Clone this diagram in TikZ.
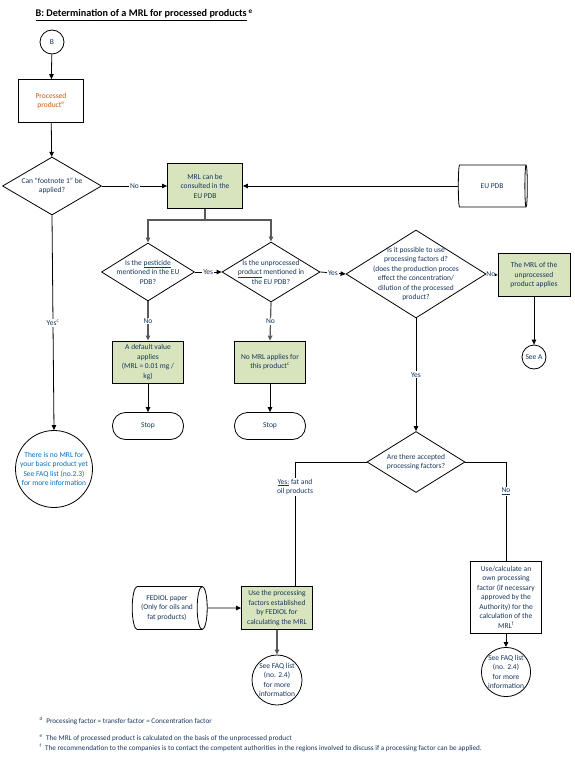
\documentclass[tikz,border=0pt]{standalone}
\usepackage{fontspec}
\setmainfont{Carlito}
\usepackage{tikz}
\usetikzlibrary{arrows.meta, shapes.geometric, positioning, calc}
\definecolor{BoxGreen}{RGB}{215,228,189}
\definecolor{TextNavy}{RGB}{23,54,93}
\definecolor{TextBlue}{RGB}{0,112,192}
\definecolor{TextOrange}{RGB}{197,90,17}
\definecolor{LineGrey}{RGB}{89,89,89}

\begin{document}
\begin{tikzpicture}[x=1pt,y=-1pt,
    every node/.style={font=\fontsize{7.5}{9.5}\selectfont, text=TextNavy, align=center},
    procbox/.style={draw, line width=0.8pt, fill=white, inner sep=1pt},
    greenbox/.style={procbox, fill=BoxGreen},
    ask/.style={diamond, draw, line width=0.8pt, fill=white, inner sep=0pt},
    endcircle/.style={circle, draw, line width=0.8pt, fill=white, inner sep=0pt},
    stopbox/.style={draw, line width=0.8pt, rounded corners=13pt, minimum width=71, minimum height=27},
    store/.style={cylinder, draw, line width=0.8pt, fill=white, inner sep=0pt},
    link/.style={draw, line width=0.8pt, -{Triangle[length=5pt,width=4.5pt]}},
    greylink/.style={link, LineGrey, line width=1.2pt},
    plainlink/.style={draw, line width=0.8pt},
    tag/.style={fill=white, inner sep=1pt},
    footnote/.style={font=\fontsize{7.2}{8}\selectfont, anchor=west, align=left}]
        \useasboundingbox (0,0) rectangle (574,760);
        % Title
        \node[font=\bfseries\fontsize{10.2}{12}\selectfont, text=black, anchor=west] (title) at (32,15)
          {\underline{B: Determination of a MRL for processed products}\,\textsuperscript{e}};
        % Start and first question
        \node[endcircle, minimum size=24] (b) at (52,42) {B};
        \node[procbox, minimum width=65, minimum height=43, text=TextOrange] (pp) at (51,101) {Processed\\product\textsuperscript{e}};
        \node[ask, minimum width=99, minimum height=58,
          label={center:{Can “footnote 1” be\\applied?}}] (q1) at (52,186) {};
        \node[greenbox, minimum width=75, minimum height=45] (mrl) at (205,186) {MRL can be\\consulted in the\\EU PDB};
        \node[store, minimum width=42, minimum height=69, aspect=0.5] (eupdb) at (492,186) {EU PDB};
        % Questions on the EU PDB
        \node[ask, minimum width=93, minimum height=58,
          label={center:{Is the \underline{pesticide}\\mentioned in the EU\\PDB?}}] (q2) at (148,272) {};
        \node[ask, minimum width=98, minimum height=60,
          label={center:{Is the unprocessed\\\underline{product} mentioned in\\the EU PDB?}}] (q3) at (271,272) {};
        \node[ask, minimum width=140, minimum height=88,
          label={center:{Is it possible to use\\processing factors d?\\(does the production proces\\effect the concentration/\\dilution of the processed\\product?}}] (q4) at (416,274) {};
        \node[greenbox, minimum width=72, minimum height=43] (mrlup) at (534,275) {The MRL of the\\unprocessed\\product applies};
        \node[endcircle, minimum size=24] (seea) at (534,357) {See A};
        % Outcomes
        \node[endcircle, minimum size=77, text=TextBlue] (nomrl) at (54,469) {There is no MRL for\\your basic product yet\\See FAQ list (no.2.3)\\for more information};
        \node[greenbox, minimum width=71, minimum height=42] (defval) at (148,362) {A default value\\applies\\(MRL = 0.01 mg /\\kg)};
        \node[stopbox] (stop1) at (148,426) {Stop};
        \node[greenbox, minimum width=71, minimum height=42] (nomrlp) at (270,362) {No MRL applies for\\this product\textsuperscript{c}};
        \node[stopbox] (stop2) at (270,426) {Stop};
        % Processing factors
        \node[ask, minimum width=98, minimum height=61,
          label={center:{Are there accepted\\processing factors?}}] (q5) at (416,462) {};
        \node[store, minimum width=43, minimum height=75, aspect=0.4] (paper) at (167,608) {FEDIOL paper\\(Only for oils and\\fat products)};
        \node[greenbox, minimum width=71, minimum height=43] (fediol) at (277,608) {Use the processing\\factors established\\by FEDIOL for\\calculating the MRL};
        \node[endcircle, minimum size=50] (faqa) at (277,680) {See FAQ list\\(no. 2.4)\\for more\\information};
        \node[procbox, minimum width=71, minimum height=72] (ownpf) at (506,597) {Use/calculate an\\own processing\\factor (if necessary\\approved by the\\Authority) for the\\calculation of the\\MRL\textsuperscript{f}};
        \node[endcircle, minimum size=48] (faqb) at (506,672) {See FAQ list\\(no. 2.4)\\for more\\information};
        % Connectors
        \draw[link] (b) -- (pp);
        \draw[link] (pp) -- (q1);
        \draw[link] (q1.east) -- node[tag] {No} (mrl.west);
        \draw[link] (eupdb.west) -- (mrl.east);
        \coordinate (split) at ($(mrl.south)+(0,11)$);
        \draw[greylink] (mrl.south) -- (split) -| (q2.north);
        \draw[greylink] (split) -| (q3.north);
        \draw[link] (q2.east) -- node[tag] {Yes} (q3.west);
        \draw[link] (q3.east) -- node[tag] {Yes} (q4.west);
        \draw[link] (q4.east) -- node[tag, inner sep=0pt, pos=0.4] {No} (mrlup.west);
        \draw[link] (mrlup.south) -- (seea.north);
        \draw[link] (q1.south) -- node[tag] {Yes\textsuperscript{c}} (nomrl.north);
        \draw[greylink] (q2.south) -- node[tag] {No} (defval.north);
        \draw[greylink] (q3.south) -- node[tag] {No} (nomrlp.north);
        \draw[link] (defval.south) -- (stop1.north);
        \draw[link] (nomrlp.south) -- (stop2.north);
        \draw[link] (q4.south) -- node[tag] {Yes} (q5.north);
        \draw[plainlink] (q5.west) -| node[tag, pos=0.6] {\underline{Yes:} fat and\\oil products} ([xshift=18pt]fediol.north);
        \draw[plainlink] (q5.east) -| node[tag, pos=0.65] {\underline{No}} (ownpf.north);
        \draw[link] (paper.east) -- (fediol.west);
        \draw[greylink] (fediol.south) -- (faqa.north);
        \draw[link] (ownpf.south) -- (faqb.north);
        % Footnotes
        \node[footnote] (fnd) at (36,721) {\textsuperscript{d}\enspace Processing factor = transfer factor = Concentration factor};
        \node[footnote] (fne) at (36,738) {\textsuperscript{e}\enspace The MRL of processed product is calculated on the basis of the unprocessed product};
        \node[footnote] (fnf) at (36,748) {\textsuperscript{f}\enspace The recommendation to the companies is to contact the competent authorities in the regions involved to discuss if a processing factor can be applied.};
      \end{tikzpicture}
\end{document}
